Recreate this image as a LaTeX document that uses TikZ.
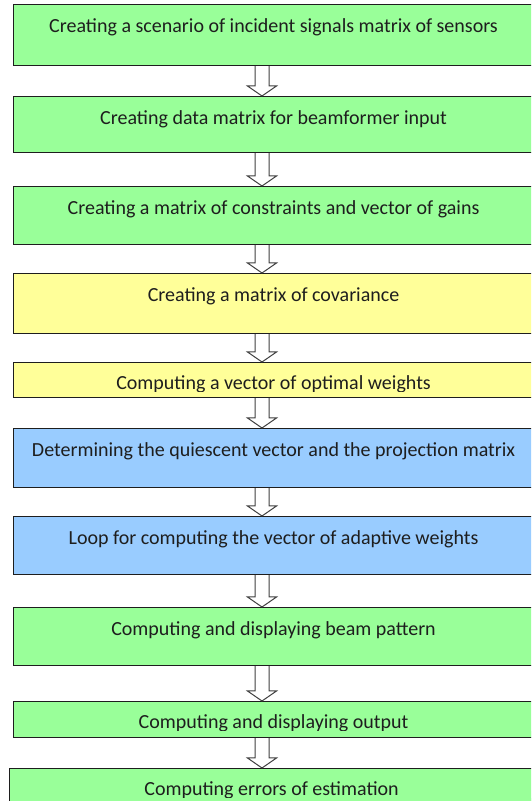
\documentclass[tikz,border=0pt]{standalone}
\usepackage{fontspec}
\setmainfont{Carlito}
\usetikzlibrary{calc}
\definecolor{stepgreen}{HTML}{99FF99}
\definecolor{stepyellow}{HTML}{FFFF99}
\definecolor{stepblue}{HTML}{99CCFF}
\definecolor{stepink}{HTML}{1E1E1E}
\tikzset{
  stage/.style={draw=stepink, line width=1.1pt, anchor=north west, minimum width=520pt, inner xsep=0pt, inner ysep=0pt, text height=28pt, font=\fontsize{20}{21}\selectfont, text=stepink},
  grn/.style={stage, fill=stepgreen},
  ylw/.style={stage, fill=stepyellow},
  blu/.style={stage, fill=stepblue},
  low/.style={text height=27pt},
  hollow/.style={draw=stepink!85, fill=white, line width=1pt, line join=miter},
}
\newcommand\hollowarrow[2]{%
  \draw[hollow] let \p1=(#1.south -| ax), \p2=(#2.north -| ax) in
    (\x1-7pt,\y1) -- (\x1-7pt,\y2+10pt) -- (\x1-14.5pt,\y2+10pt) -- (\x2,\y2)
    -- (\x1+14.5pt,\y2+10pt) -- (\x1+7pt,\y2+10pt) -- (\x1+7pt,\y1);}

\begin{document}
\begin{tikzpicture}[x=1pt, y=1pt]
  \useasboundingbox (0,0) rectangle (531,801);
  \clip (0,0) rectangle (531,801);
  \coordinate (ax) at (262,0);

  \node[grn, text depth=33pt] (b1) at (13,797) {Creating a scenario of incident signals matrix of sensors};
  \node[grn, text depth=28pt] (b2) at (13,705) {Creating data matrix for beamformer input};
  \node[grn, text depth=30pt] (b3) at (13,615) {Creating a matrix of constraints and vector of gains};
  \node[ylw, text depth=32pt] (b4) at (13,528) {Creating a matrix of covariance};
  \node[ylw, low, text depth=8pt] (b5) at (13,439) {Computing a vector of optimal weights};
  \node[blu, text depth=31pt] (b6) at (13,373) {Determining the quiescent vector and the projection matrix};
  \node[blu, text depth=30pt] (b7) at (13,285) {Loop for computing the vector of adaptive weights};
  \node[grn, text depth=30pt] (b8) at (13,194) {Computing and displaying beam pattern};
  \node[grn, low, text depth=9pt] (b9) at (13,100) {Computing and displaying output};
  \node[grn, low, text depth=33pt, minimum width=524pt] (b10) at (9,33) {Computing errors of estimation};

  \foreach \n/\c in {b5/stepyellow, b9/stepgreen, b10/stepgreen}
    \fill[\c] ($(\n.base -| \n.west)+(0.6pt,-2pt)$) rectangle ($(\n.south east)+(-0.6pt,0.6pt)$);

  \foreach \a/\b in {b1/b2, b2/b3, b3/b4, b4/b5, b5/b6, b6/b7, b7/b8, b8/b9, b9/b10}
    {\hollowarrow{\a}{\b}}
\end{tikzpicture}
\end{document}
